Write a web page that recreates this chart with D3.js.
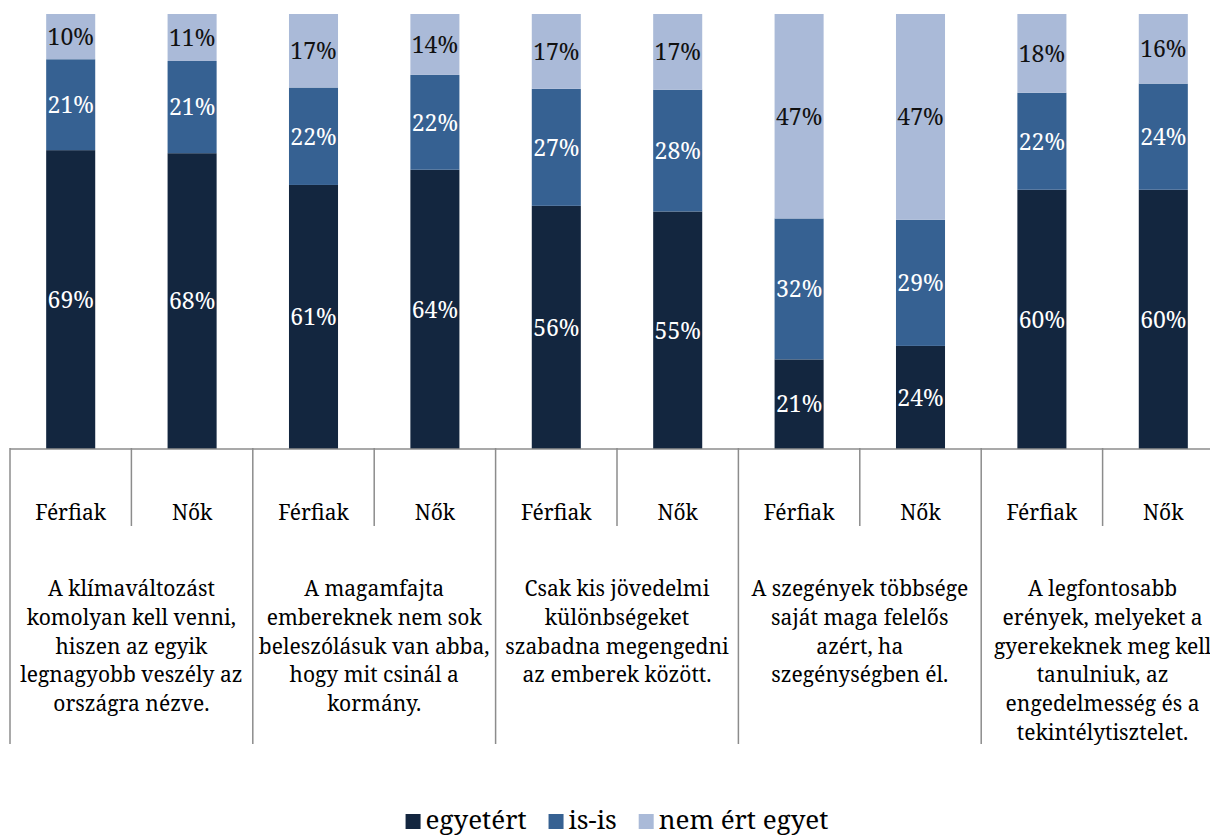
<!DOCTYPE html>
<html>
<head>
<meta charset="utf-8">
<script src="https://cdn.jsdelivr.net/npm/d3@7"></script>
<style>
  body { margin: 0; background: #fff; }
</style>
</head>
<body>
<div id="chart"></div>
<script>
const groups = ["Férfiak", "Nők", "Férfiak", "Nők", "Férfiak", "Nők", "Férfiak", "Nők", "Férfiak", "Nők"];
const statements = [
    ["A klímaváltozást", "komolyan kell venni,", "hiszen az egyik", "legnagyobb veszély az", "országra nézve."],
    ["A magamfajta", "embereknek nem sok", "beleszólásuk van abba,", "hogy mit csinál a", "kormány."],
    ["Csak kis jövedelmi", "különbségeket", "szabadna megengedni", "az emberek között."],
    ["A szegények többsége", "saját maga felelős", "azért, ha", "szegénységben él."],
    ["A legfontosabb", "erények, melyeket a", "gyerekeknek meg kell", "tanulniuk, az", "engedelmesség és a", "tekintélytisztelet."]
];
const seriesNames = ["egyetért", "is-is", "nem ért egyet"];
const egyetert = [68.7, 68.0, 60.7, 64.2, 55.9, 54.6, 20.6, 23.7, 59.6, 59.6];
const isIs = [20.9, 21.2, 22.4, 21.8, 26.9, 28.0, 32.4, 29.0, 22.3, 24.4];
const nemErtEgyet = [10.4, 10.8, 16.9, 14.0, 17.2, 17.4, 47.0, 47.3, 18.1, 16.0];

function stackedBars(id) {
    const width = 1210;
    const height = 836;
    const margin = ({top: 14, left: 10, right: 10 + 121.4 * 10, bottom: 449});

    const data = groups.map((g, i) => ({
        idx: i,
        "egyetért": egyetert[i],
        "is-is": isIs[i],
        "nem ért egyet": nemErtEgyet[i]
    }));
    const series = d3.stack().keys(seriesNames)(data);

    const x = d3.scaleBand()
        .domain(d3.range(groups.length))
        .range([margin.left, margin.right])
        .paddingInner(0.596)
        .paddingOuter(0.298);

    const y = d3.scaleLinear()
        .domain([0, 100])
        .range([margin.bottom, margin.top]);

    const color = d3.scaleOrdinal()
        .domain(seriesNames)
        .range(["#13263f", "#366192", "#aabad8"]);
    const labelColor = d3.scaleOrdinal()
        .domain(seriesNames)
        .range(["#ffffff", "#ffffff", "#111111"]);

    const svg = d3.select('#' + id).append('svg')
        .attr("width", width)
        .attr("height", height)
        .attr("viewBox", [0, 0, width, height])
        .attr("font-family", "Noto Serif");

    // bars
    svg.append("g")
        .selectAll("g")
        .data(series)
        .join("g")
        .attr("fill", d => color(d.key))
        .selectAll("rect")
        .data(d => d)
        .join("rect")
        .attr("x", d => x(d.data.idx))
        .attr("y", d => y(d[1]))
        .attr("width", x.bandwidth())
        .attr("height", d => y(d[0]) - y(d[1]));

    // value labels
    const fmt = d3.format(".0f");
    svg.append("g")
        .selectAll("g")
        .data(series)
        .join("g")
        .attr("fill", d => labelColor(d.key))
        .selectAll("text")
        .data(d => d)
        .join("text")
        .attr("x", d => x(d.data.idx) + x.bandwidth() / 2)
        .attr("y", d => (y(d[0]) + y(d[1])) / 2)
        .attr("dy", "0.36em")
        .attr("text-anchor", "middle")
        .attr("font-size", 23)
        .text(d => fmt(d[1] - d[0]) + "%");

    // axis line and category dividers
    const step = x.step();
    const x0 = margin.left;
    const axis = svg.append("g")
        .attr("stroke", "#8c8c8c")
        .attr("stroke-width", 1.5);
    axis.append("line")
        .attr("x1", x0).attr("x2", margin.right)
        .attr("y1", y(0)).attr("y2", y(0));
    axis.selectAll(".tick")
        .data(d3.range(groups.length + 1))
        .join("line")
        .attr("x1", i => x0 + i * step)
        .attr("x2", i => x0 + i * step)
        .attr("y1", y(0) - 1)
        .attr("y2", i => i % 2 === 0 ? 744 : 526);

    // Férfiak / Nők labels
    svg.append("g")
        .selectAll("text")
        .data(groups)
        .join("text")
        .attr("x", (d, i) => x(i) + x.bandwidth() / 2)
        .attr("y", 520)
        .attr("text-anchor", "middle")
        .attr("fill", "#000")
        .attr("font-size", 21)
        .text(d => d);

    // statement labels
    svg.append("g")
        .selectAll("text")
        .data(statements)
        .join("text")
        .attr("x", (d, i) => x0 + (2 * i + 1) * step)
        .attr("y", 596)
        .attr("text-anchor", "middle")
        .attr("fill", "#000")
        .attr("font-size", 21)
        .selectAll("tspan")
        .data(d => d)
        .join("tspan")
        .attr("x", function () { return this.parentNode.getAttribute("x"); })
        .attr("dy", (d, i) => i === 0 ? 0 : 28.8)
        .text(d => d);

    // legend
    const legend = svg.append("g");
    const items = legend.selectAll("g")
        .data(seriesNames)
        .join("g");
    items.append("rect")
        .attr("width", 15)
        .attr("height", 15)
        .attr("fill", d => color(d));
    items.append("text")
        .attr("x", 20)
        .attr("y", 15)
        .attr("fill", "#000")
        .attr("font-size", 26)
        .text(d => d);
    let off = 0;
    items.each(function () {
        const w = 20 + this.querySelector("text").getComputedTextLength();
        d3.select(this).attr("transform", `translate(${off},814)`);
        off += w + 22;
    });
    legend.attr("transform", `translate(${(x0 + margin.right) / 2 - (off - 22) / 2},0)`);
}

stackedBars("chart");
</script>
</body>
</html>
